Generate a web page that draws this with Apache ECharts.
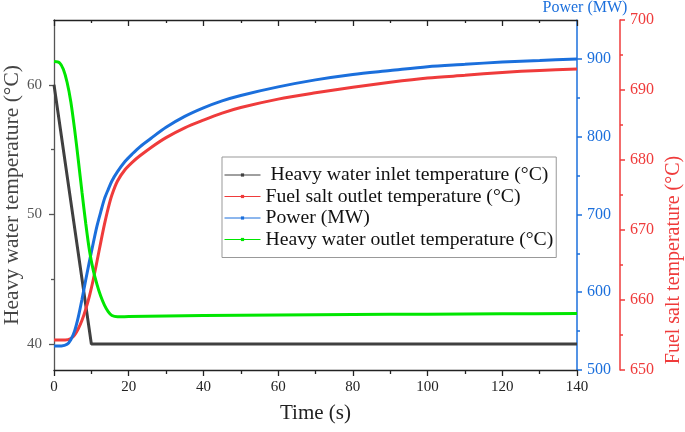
<!DOCTYPE html>
<html><head><meta charset="utf-8">
<script src="https://cdn.jsdelivr.net/npm/echarts@6/dist/echarts.min.js"></script>
<style>html,body{margin:0;padding:0;background:#fff}#c{width:685px;height:432px}</style>
</head><body><div id="c"></div>
<script>
// ---- data ----
const inletT = [0, 10, 140];
const inletV = [60, 40, 40];

const outletT = [0,1.5,2.5,3.5,4.5,5.5,6.5,7.5,8.5,9.5,10.5,11.5,12.5,13.5,14.5,15.5,17,20,30,40,60,80,100,120,140];
const outletV = [61.8,61.7,61.2,60.2,58.7,56.6,54.2,51.7,49.3,47.2,45.7,44.6,43.7,43.0,42.5,42.2,42.1,42.12,42.17,42.2,42.25,42.28,42.31,42.33,42.35];

const powerT = [0,2,3.5,4.5,5.5,6.5,7.5,8.5,9.5,10.5,11.5,12.5,13.5,14.5,15.5,17,19,21,23,26,30,35,40,45,50,60,70,80,90,100,110,120,130,140];
const powerV = [531,531,533,539,550,568,591,616,640,663,685,703,720,732,743,755,768,778,787,798,812,826,837,846,853,864,873,880,885,890,893,896,898,900];

const saltT = [0,3,4.5,5.5,6.5,7.5,8.5,9.5,10.5,11.5,12.5,13.5,14.5,15.5,17,19,21,23,26,30,35,40,45,50,60,70,80,90,100,110,120,130,140];
const saltV = [654.3,654.3,654.5,655,655.9,657.1,658.7,660.6,662.9,665.5,668.2,670.8,673.1,675,677,678.6,679.7,680.6,681.8,683.2,684.6,685.7,686.7,687.5,688.7,689.6,690.4,691.1,691.7,692.1,692.5,692.8,693.0];

const leftTicks = [40,50,60];
const leftMinor = [45,55];
const powerTicks = [500,600,700,800,900];
const powerMinor = [550,650,750,850];

const names = [' Heavy water inlet temperature (°C)', 'Fuel salt outlet temperature (°C)', 'Power (MW)', 'Heavy water outlet temperature (°C)'];
const colors = ['#404040', '#ef3b3b', '#1b6fdc', '#00e600'];

const pair = (t, v) => t.map((x, i) => [x, v[i]]);

const serif = 'Liberation Serif, Times New Roman, serif';
const chart = echarts.init(document.getElementById('c'), null, {renderer: 'canvas'});

const lineSeries = (name, idx, yIdx, data, smooth) => ({
  name, type: 'line', xAxisIndex: 0, yAxisIndex: yIdx, data,
  showSymbol: false, symbol: 'rect', symbolSize: 3, smooth: smooth,
  lineStyle: {width: 3, color: colors[idx]}, itemStyle: {color: colors[idx]},
  animation: false, z: 3
});

chart.setOption({
  animation: false,
  grid: {left: 54, right: 108, top: 20, bottom: 62, containLabel: false, outerBoundsMode: 'none'},
  legend: {
    orient: 'vertical', left: 222, top: 157, padding: [8, 3, 8, 2],
    itemGap: 1.5, itemWidth: 36, itemHeight: 4,
    borderColor: '#999', borderWidth: 1,
    textStyle: {fontFamily: serif, fontSize: 19.7, color: '#111'},
    lineStyle: {width: 1},
    data: names
  },
  xAxis: [
    {type: 'value', min: 0, max: 140, interval: 20, position: 'bottom',
     axisLine: {onZero: false, lineStyle: {color: '#222', width: 1.3}},
     axisTick: {inside: false, length: 6, lineStyle: {color: '#222', width: 1.3}},
     minorTick: {show: true, splitNumber: 2, length: 4, lineStyle: {color: '#222', width: 1.3}},
     axisLabel: {fontFamily: serif, fontSize: 15, color: '#222', margin: 10},
     splitLine: {show: false},
     name: 'Time (s)', nameLocation: 'middle', nameGap: 33, nameMoveOverlap: false,
     nameTextStyle: {fontFamily: serif, fontSize: 21, color: '#222'}},
    {type: 'value', min: 0, max: 140, interval: 20, position: 'top',
     axisLine: {onZero: false, lineStyle: {color: '#222', width: 1.3}},
     axisTick: {inside: true, length: 6, lineStyle: {color: '#222', width: 1.3}},
     minorTick: {show: true, splitNumber: 2, length: 3, lineStyle: {color: '#222', width: 1.3}},
     axisLabel: {show: false}, splitLine: {show: false}}
  ],
  yAxis: [
    {type: 'value', min: 38, max: 65, position: 'left',
     axisLine: {show: true, onZero: false, lineStyle: {color: '#555', width: 1.3}},
     axisTick: {show: true, length: 5, customValues: leftTicks, lineStyle: {color: '#555', width: 1.3}},
     axisLabel: {customValues: leftTicks, fontFamily: serif, fontSize: 15, color: '#555', margin: 12},
     splitLine: {show: false},
     name: 'Heavy water temperature (°C)', nameLocation: 'middle', nameGap: 31, nameMoveOverlap: false,
     nameTextStyle: {fontFamily: serif, fontSize: 21.5, color: '#444'}},
    {type: 'value', min: 500, max: 950, position: 'right', offset: 0,
     axisLine: {show: true, onZero: false, lineStyle: {color: colors[2], width: 1.5}},
     axisTick: {show: true, length: 5, customValues: powerTicks, lineStyle: {color: colors[2], width: 1.5}},
     axisLabel: {customValues: powerTicks, fontFamily: serif, fontSize: 16, color: colors[2], margin: 10},
     splitLine: {show: false},
     name: 'Power (MW)', nameLocation: 'end', nameGap: 4, nameMoveOverlap: false,
     nameTextStyle: {fontFamily: serif, fontSize: 16, color: colors[2], align: 'center', padding: [0, 0, 0, 16]}},
    {type: 'value', min: 650, max: 700, interval: 10, position: 'right', offset: 43,
     axisLine: {show: true, onZero: false, lineStyle: {color: colors[1], width: 1.5}},
     axisTick: {show: true, length: 5, lineStyle: {color: colors[1], width: 1.5}},
     minorTick: {show: true, splitNumber: 2, length: 3, lineStyle: {color: colors[1], width: 1.5}},
     axisLabel: {fontFamily: serif, fontSize: 16, color: colors[1], margin: 10},
     splitLine: {show: false},
     name: 'Fuel salt temperature (°C)', nameLocation: 'middle', nameGap: 44, nameMoveOverlap: false,
     nameTextStyle: {fontFamily: serif, fontSize: 20, color: colors[1], padding: [0, 130, 0, 0]}},
    // minor tick helpers
    {type: 'value', min: 38, max: 65, position: 'left', offset: 0,
     axisLine: {show: false, onZero: false},
     axisTick: {show: true, length: 3, customValues: leftMinor, lineStyle: {color: '#555', width: 1.3}},
     axisLabel: {show: false}, splitLine: {show: false}},
    {type: 'value', min: 500, max: 950, position: 'right', offset: 0,
     axisLine: {show: false, onZero: false},
     axisTick: {show: true, length: 3, customValues: powerMinor, lineStyle: {color: colors[2], width: 1.5}},
     axisLabel: {show: false}, splitLine: {show: false}}
  ],
  series: [
    lineSeries(names[0], 0, 0, pair(inletT, inletV), false),
    lineSeries(names[1], 1, 2, pair(saltT, saltV), 0.3),
    lineSeries(names[2], 2, 1, pair(powerT, powerV), 0.3),
    lineSeries(names[3], 3, 0, pair(outletT, outletV), 0.3)
  ]
});
</script>
</body></html>
